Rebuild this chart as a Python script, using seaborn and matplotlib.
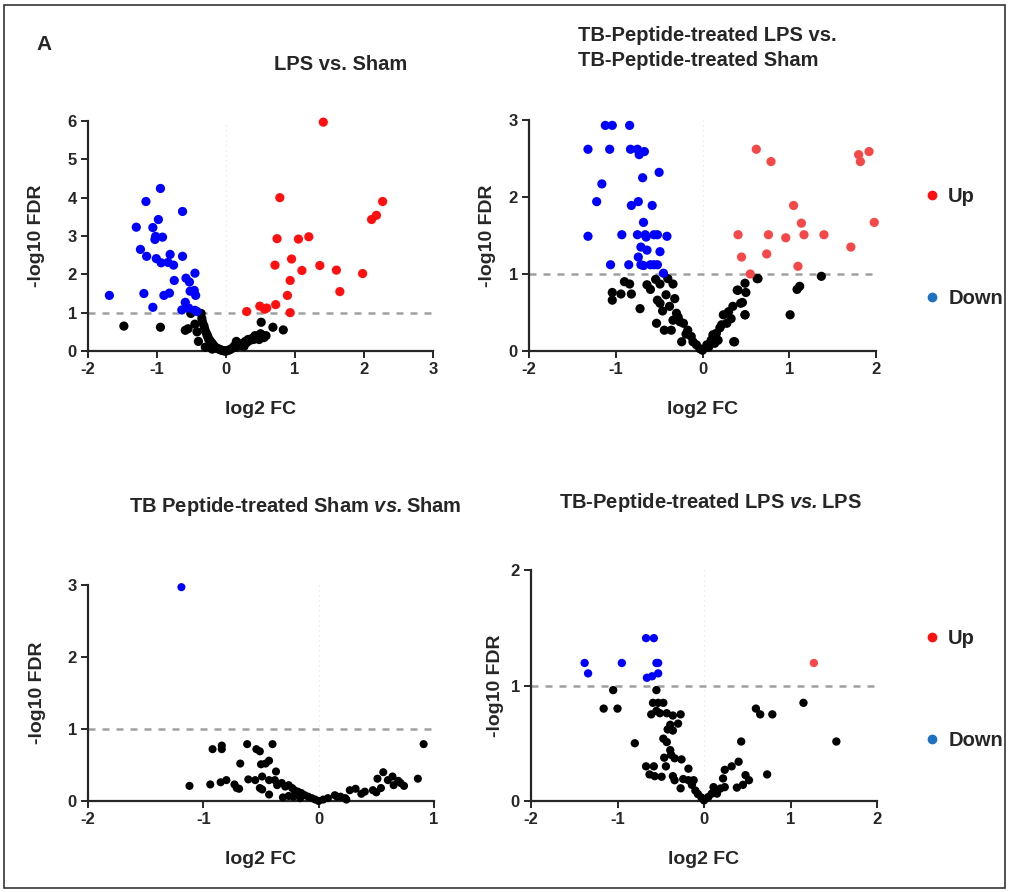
import numpy as np
import pandas as pd
import matplotlib
matplotlib.use("Agg")
import matplotlib.pyplot as plt
import seaborn as sns
from matplotlib.lines import Line2D
from matplotlib.patches import Rectangle

# ---- data (log2 FC, -log10 FDR) ----
# LPS vs. Sham
p1_down_x = [-1.69, -0.95, -1.16, -0.63, -0.98, -1.30, -1.06, -1.02, -0.92, -1.03, -1.24, -1.15,
             -1.01, -0.94, -0.81, -0.84, -0.76, -0.63, -0.75, -0.45, -0.58, -0.53, -0.52, -0.46,
             -0.44, -1.19, -0.90, -0.82, -1.06, -0.59, -0.64, -0.54, -0.45, -0.42]
p1_down_y = [1.45, 4.24, 3.90, 3.64, 3.43, 3.23, 3.22, 2.99, 2.97, 2.91, 2.65, 2.47,
             2.41, 2.30, 2.52, 2.31, 2.24, 2.47, 1.84, 2.03, 1.90, 1.80, 1.56, 1.58,
             1.45, 1.50, 1.45, 1.51, 1.14, 1.27, 1.07, 1.12, 1.06, 1.03]
p1_up_x = [1.41, 0.78, 2.27, 2.18, 2.11, 0.74, 1.05, 1.20, 0.95, 0.71, 1.10, 1.36,
           1.60, 1.98, 0.93, 1.65, 0.89, 0.72, 0.49, 0.56, 0.59, 0.30, 0.93]
p1_up_y = [5.97, 4.00, 3.90, 3.54, 3.43, 2.93, 2.92, 2.98, 2.40, 2.24, 2.10, 2.23,
           2.11, 2.02, 1.84, 1.55, 1.45, 1.21, 1.17, 1.09, 1.12, 1.03, 1.00]
p1_ns_x = [-1.48, -0.95, -0.59, -0.55, -0.51, -0.45, -0.42, -0.40, -0.36, -0.35, -0.34, -0.32,
           -0.31, -0.30, -0.28, -0.27, -0.26, -0.25, -0.23, -0.22, -0.20, -0.19, -0.17, -0.16,
           -0.14, -0.12, -0.10, -0.08, -0.06, -0.04, -0.02, 0.00, 0.02, 0.05, 0.07, 0.10,
           0.12, 0.14, 0.17, 0.20, 0.22, 0.25, 0.28, 0.30, 0.32, 0.35, 0.38, 0.40,
           0.42, 0.45, 0.48, 0.50, 0.51, 0.53, 0.55, 0.58, 0.68, 0.83, -0.30, -0.20, 0.15, 0.26]
p1_ns_y = [0.65, 0.62, 0.54, 0.58, 0.98, 0.70, 0.50, 0.25, 0.98, 0.85, 0.75, 0.66,
           0.58, 0.52, 0.45, 0.40, 0.36, 0.30, 0.27, 0.22, 0.20, 0.16, 0.13, 0.10,
           0.08, 0.06, 0.05, 0.03, 0.02, 0.01, 0.00, 0.00, 0.01, 0.03, 0.05, 0.08,
           0.13, 0.10, 0.15, 0.18, 0.14, 0.20, 0.25, 0.22, 0.30, 0.28, 0.33, 0.30,
           0.40, 0.36, 0.30, 0.45, 0.75, 0.41, 0.35, 0.40, 0.62, 0.55, 0.10, 0.05, 0.25, 0.12]

# TB-Peptide-treated LPS vs. TB-Peptide-treated Sham
p2_down_x = [-1.12, -1.04, -0.84, -1.32, -1.07, -0.83, -0.75, -0.67, -0.73, -0.50, -0.69, -1.16,
             -1.22, -0.74, -0.82, -0.58, -0.68, -1.32, -0.93, -0.75, -0.66, -0.65, -0.56, -0.52,
             -0.41, -0.71, -0.64, -0.49, -0.74, -1.06, -0.85, -0.71, -0.68, -0.60, -0.56, -0.52, -0.45]
p2_down_y = [2.93, 2.93, 2.93, 2.62, 2.62, 2.62, 2.62, 2.59, 2.55, 2.32, 2.25, 2.17,
             1.94, 1.94, 1.89, 1.89, 1.67, 1.49, 1.51, 1.51, 1.51, 1.48, 1.51, 1.51,
             1.49, 1.35, 1.31, 1.29, 1.22, 1.12, 1.12, 1.12, 1.11, 1.12, 1.12, 1.12, 1.01]
p2_up_x = [0.62, 0.79, 1.80, 1.92, 1.82, 1.05, 1.14, 1.98, 0.41, 0.76, 0.96, 1.17,
           1.40, 0.45, 0.74, 1.71, 1.10, 0.55]
p2_up_y = [2.62, 2.46, 2.55, 2.59, 2.46, 1.89, 1.66, 1.67, 1.51, 1.51, 1.47, 1.51,
           1.51, 1.22, 1.26, 1.35, 1.10, 1.00]
p2_ns_x = [-0.90, -0.84, -1.04, -1.04, -0.94, -0.82, -0.72, -0.64, -0.54, -0.49, -0.40, -0.34,
           -0.42, -0.32, -0.52, -0.49, -0.38, -0.30, -0.34, -0.26, -0.53, -0.44, -0.36, -0.22,
           -0.17, -0.13, -0.24, -0.11, -0.07, -0.03, 0.00, 0.05, 0.10, 0.16, 0.22, 0.24,
           0.30, 0.35, 0.41, 0.49, 0.50, 0.37, 0.18, 0.12, 0.49, 0.28, 0.63, 0.64,
           1.37, 1.12, 1.09, 1.01, 0.40, 0.46, 0.49, 0.36, -0.60, -0.46, -0.28, -0.19,
           0.07, 0.14, 0.20, 0.33, 0.44]
p2_ns_y = [0.90, 0.87, 0.76, 0.66, 0.74, 0.74, 0.55, 0.86, 0.93, 0.87, 0.94, 0.87,
           0.73, 0.68, 0.66, 0.62, 0.58, 0.49, 0.40, 0.38, 0.36, 0.27, 0.27, 0.36,
           0.27, 0.19, 0.12, 0.12, 0.08, 0.03, 0.01, 0.08, 0.14, 0.23, 0.34, 0.47,
           0.51, 0.58, 0.79, 0.88, 0.76, 0.12, 0.14, 0.21, 0.47, 0.36, 0.94, 0.94,
           0.97, 0.84, 0.80, 0.47, 0.79, 0.63, 0.47, 0.12, 0.80, 0.52, 0.44, 0.22,
           0.05, 0.10, 0.30, 0.42, 0.62]

# TB Peptide-treated Sham vs. Sham
p3_down_x = [-1.19]
p3_down_y = [2.97]
p3_up_x = []
p3_up_y = []
p3_ns_x = [0.91, 0.86, -1.12, -0.94, -0.85, -0.80, -0.92, -0.84, -0.84, -0.62, -0.54, -0.51,
           -0.40, -0.68, -0.50, -0.46, -0.43, -0.37, -0.73, -0.71, -0.69, -0.61, -0.55, -0.49,
           -0.51, -0.49, -0.43, -0.43, -0.38, -0.36, -0.32, -0.29, -0.26, -0.23, -0.21, -0.18,
           -0.15, -0.12, -0.09, -0.06, -0.03, -0.31, -0.26, -0.22, -0.16, 0.00, 0.04, 0.08,
           0.14, 0.19, 0.23, 0.27, 0.32, 0.37, 0.40, 0.47, 0.51, 0.50, 0.54, 0.56,
           0.60, 0.64, 0.65, 0.69, 0.71, 0.74, 0.16, 0.24]
p3_ns_y = [0.79, 0.31, 0.21, 0.23, 0.26, 0.29, 0.72, 0.77, 0.72, 0.79, 0.72, 0.69,
           0.79, 0.52, 0.51, 0.52, 0.56, 0.41, 0.23, 0.18, 0.17, 0.30, 0.29, 0.34,
           0.18, 0.16, 0.29, 0.09, 0.29, 0.22, 0.25, 0.20, 0.22, 0.18, 0.15, 0.13,
           0.11, 0.08, 0.06, 0.04, 0.02, 0.05, 0.07, 0.06, 0.04, 0.00, 0.02, 0.04,
           0.08, 0.06, 0.04, 0.15, 0.17, 0.10, 0.13, 0.15, 0.31, 0.12, 0.18, 0.40,
           0.29, 0.34, 0.22, 0.28, 0.25, 0.21, 0.06, 0.02]

# TB-Peptide-treated LPS vs. LPS
p4_down_x = [-1.38, -1.34, -0.95, -0.67, -0.58, -0.55, -0.53, -0.66, -0.60, -0.53]
p4_down_y = [1.195, 1.105, 1.195, 1.41, 1.41, 1.195, 1.195, 1.067, 1.08, 1.105]
p4_up_x = [1.27]
p4_up_y = [1.195]
p4_ns_x = [-1.05, -1.16, -1.00, -0.80, -0.55, -0.59, -0.53, -0.47, -0.61, -0.55, -0.51, -0.43,
           -0.36, -0.27, -0.39, -0.30, -0.42, -0.36, -0.47, -0.43, -0.39, -0.38, -0.46, -0.34,
           -0.26, -0.44, -0.18, -0.67, -0.58, -0.63, -0.57, -0.49, -0.36, -0.34, -0.27, -0.24,
           -0.18, -0.14, -0.12, -0.10, -0.07, -0.03, 0.00, 0.05, 0.09, 0.13, 0.19, 0.11,
           0.24, 0.22, 0.24, 0.32, 0.40, 0.38, 0.45, 0.48, 0.52, 0.43, 0.60, 0.65,
           0.79, 0.73, 1.15, 1.53, 0.15]
p4_ns_y = [0.96, 0.80, 0.80, 0.50, 0.96, 0.85, 0.85, 0.85, 0.75, 0.78, 0.76, 0.76,
           0.74, 0.75, 0.66, 0.67, 0.62, 0.61, 0.54, 0.51, 0.44, 0.40, 0.375, 0.37,
           0.36, 0.30, 0.28, 0.30, 0.30, 0.23, 0.215, 0.21, 0.215, 0.18, 0.11, 0.19,
           0.18, 0.14, 0.18, 0.09, 0.06, 0.03, 0.005, 0.035, 0.064, 0.093, 0.108, 0.12,
           0.12, 0.195, 0.27, 0.30, 0.34, 0.116, 0.14, 0.224, 0.18, 0.515, 0.80, 0.75,
           0.75, 0.23, 0.85, 0.515, 0.064]

titles = ["LPS vs. Sham",
          "TB-Peptide-treated LPS vs.\nTB-Peptide-treated Sham",
          r"TB Peptide-treated Sham $\mathbfit{vs.}$Sham",
          r"TB-Peptide-treated LPS $\mathbfit{vs.}$LPS"]


def make_df(ux, uy, dx, dy, nx, ny):
    return pd.DataFrame({
        "log2FC": list(nx) + list(dx) + list(ux),
        "FDR": list(ny) + list(dy) + list(uy),
        "group": ["ns"] * len(nx) + ["Down"] * len(dx) + ["Up"] * len(ux),
    })


sns.set_style("ticks")
plt.rcParams["font.family"] = ["Liberation Sans", "DejaVu Sans"]
plt.rcParams["font.weight"] = "bold"
plt.rcParams["axes.labelweight"] = "bold"
plt.rcParams["axes.unicode_minus"] = False
plt.rcParams["mathtext.fontset"] = "custom"
plt.rcParams["mathtext.rm"] = "Liberation Sans:bold"
plt.rcParams["mathtext.bf"] = "Liberation Sans:bold"
plt.rcParams["mathtext.bfit"] = "Liberation Sans:italic:bold"

W, H = 1010, 892
fig = plt.figure(figsize=(W / 100, H / 100), dpi=100)

# axes boxes in pixels: left, right, top, bottom
boxes = [(88, 433, 121, 351), (529, 876, 120, 351), (88, 434, 585, 801), (531, 877, 570, 801)]
xlims = [(-2, 3), (-2, 2), (-2, 1), (-2, 2)]
ylims = [(0, 6), (0, 3), (0, 3), (0, 2)]
up_colors = ["#ff1010", "#f54848", "#ff1010", "#f54848"]
sizes = [44, 44, 34, 36]
ylab_x = [-0.148, -0.121, -0.147, -0.104]

data = [
    make_df(p1_up_x, p1_up_y, p1_down_x, p1_down_y, p1_ns_x, p1_ns_y),
    make_df(p2_up_x, p2_up_y, p2_down_x, p2_down_y, p2_ns_x, p2_ns_y),
    make_df(p3_up_x, p3_up_y, p3_down_x, p3_down_y, p3_ns_x, p3_ns_y),
    make_df(p4_up_x, p4_up_y, p4_down_x, p4_down_y, p4_ns_x, p4_ns_y),
]

for i, df in enumerate(data):
    l, r, t, b = boxes[i]
    ax = fig.add_axes([l / W, (H - b) / H, (r - l) / W, (b - t) / H])
    ax.axvline(0, color="#e6e6e6", lw=0.9, ls=(0, (1, 3)), zorder=0)
    ax.axhline(1, color="#a0a0a0", lw=1.8, ls=(0, (2.8, 2.8)), zorder=1)
    sns.scatterplot(data=df, x="log2FC", y="FDR", hue="group",
                    palette={"ns": "black", "Down": "#0000ff", "Up": up_colors[i]},
                    s=sizes[i], linewidth=0, legend=False, clip_on=False, zorder=3, ax=ax)
    ax.set_xlim(*xlims[i])
    ax.set_ylim(*ylims[i])
    ax.set_xticks(range(xlims[i][0], xlims[i][1] + 1))
    ax.set_yticks(range(ylims[i][0], ylims[i][1] + 1))
    sns.despine(ax=ax)
    for s in ["left", "bottom"]:
        ax.spines[s].set_linewidth(1.6)
    ax.tick_params(length=5, width=1.4, labelsize=12, pad=3)
    ax.set_xlabel("log2 FC", fontsize=14)
    ax.set_ylabel("-log10 FDR", fontsize=14)
    hpx = b - t
    ax.xaxis.set_label_coords(0.5, -58 / hpx)
    ax.xaxis.label.set_va("center")
    ax.yaxis.set_label_coords(ylab_x[i], 0.5)
    ax.yaxis.label.set_va("center")

# titles
fig.text(36 / W, 1 - 45 / H, "A", fontsize=15, fontweight="bold", va="center", ha="left")
fig.text(341 / W, 1 - 64 / H, titles[0], fontsize=14.5, fontweight="bold", ha="center", va="center")
fig.text(578 / W, 1 - 48 / H, titles[1], fontsize=14.5, fontweight="bold", ha="left", va="center",
         linespacing=1.35)
fig.text(295 / W, 1 - 507 / H, titles[2], fontsize=14.5, fontweight="bold", ha="center", va="center")
fig.text(710 / W, 1 - 502 / H, titles[3], fontsize=14.5, fontweight="bold", ha="center", va="center")

# Up / Down keys
handles = [Line2D([], [], marker="o", ls="", color="#ff1010", markersize=6),
           Line2D([], [], marker="o", ls="", color="#1f72c2", markersize=6)]
for ytop in [187, 629]:
    fig.legend(handles, ["Up", "Down"], loc="upper left", bbox_to_anchor=(922 / W, 1 - ytop / H),
               frameon=False, fontsize=14.5, labelspacing=4.1, handletextpad=0.3,
               handlelength=1.0, borderpad=0, borderaxespad=0)

# outer frame
fig.add_artist(Rectangle((4 / W, 4 / H), 1001 / W, 883 / H, transform=fig.transFigure,
                         fill=False, lw=1.2, ec="#333333"))

fig.savefig("out.png", dpi=100)
